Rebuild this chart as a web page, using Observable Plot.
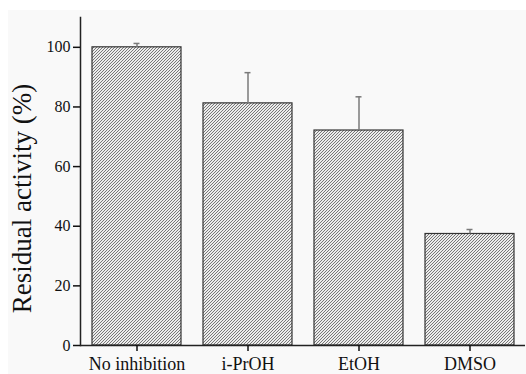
<!DOCTYPE html>
<html>
<head>
<meta charset="utf-8">
<script src="https://cdn.jsdelivr.net/npm/d3@7"></script>
<script src="https://cdn.jsdelivr.net/npm/@observablehq/plot@0.6"></script>
<style>
  html, body { margin: 0; padding: 0; background: #ffffff; }
  #chart { position: absolute; left: 8px; top: 10px; }
  #chart svg { background: #f9f9f9; display: block; }
</style>
</head>
<body>
<div id="chart"></div>
<script>
const categories = ["No inhibition", "i-PrOH", "EtOH", "DMSO"];
const activity = [100, 81.2, 72.1, 37.4];
const errorUp = [1.3, 10.3, 11.3, 1.5];
const yTicks = [0, 20, 40, 60, 80, 100];
const yLabel = "Residual activity (%)";

const data = categories.map((c, i) => ({
  cat: c, value: activity[i], upper: activity[i] + errorUp[i]
}));

const serif = "'Liberation Serif', 'Times New Roman', serif";

const chart = Plot.plot({
  width: 518,
  height: 364,
  marginLeft: 72,
  marginRight: 1,
  marginTop: 7,
  marginBottom: 29,
  style: { fontFamily: serif, color: "#111", background: "#f9f9f9" },
  x: { domain: categories, paddingInner: 0.2, paddingOuter: 0.1, label: null },
  y: { domain: [0, 110], label: null },
  marks: [
    Plot.barY(data, { x: "cat", y: "value", fill: "url(#hatch)", stroke: "#333", strokeWidth: 1.2 }),
    Plot.ruleX(data, { x: "cat", y1: "value", y2: "upper", stroke: "#7a7a7a", strokeWidth: 1.5 }),
    Plot.tickY(data, { x: "cat", y: "upper", stroke: "#7a7a7a", strokeWidth: 1.5, insetLeft: 41.5, insetRight: 41.5 }),
    Plot.ruleY([0], { stroke: "#222", strokeWidth: 1.5 }),
    Plot.frame({ anchor: "left", stroke: "#222", strokeWidth: 1.5 }),
    Plot.axisY({ ticks: yTicks, tickSize: 7, tickPadding: 3, fontSize: 16, strokeWidth: 1.5, label: null }),
    Plot.axisX({ tickSize: 6, tickPadding: 6, fontSize: 18, strokeWidth: 1.5, label: null }),
    Plot.text([yLabel], { frameAnchor: "left", textAnchor: "middle", rotate: -90, dx: -58, dy: 17, fontSize: 27, fill: "#111" })
  ]
});

// hatch pattern definition
const defs = d3.select(chart).insert("defs", ":first-child");
const pat = defs.append("pattern")
  .attr("id", "hatch")
  .attr("patternUnits", "userSpaceOnUse")
  .attr("width", 3).attr("height", 3);
pat.append("rect").attr("width", 3).attr("height", 3).attr("fill", "#ececec");
pat.append("path")
  .attr("d", "M-1,1 l2,-2 M0,3 l3,-3 M2,4 l2,-2")
  .attr("stroke", "#6a6a6a").attr("stroke-width", 0.9);

document.getElementById("chart").appendChild(chart);
</script>
</body>
</html>
